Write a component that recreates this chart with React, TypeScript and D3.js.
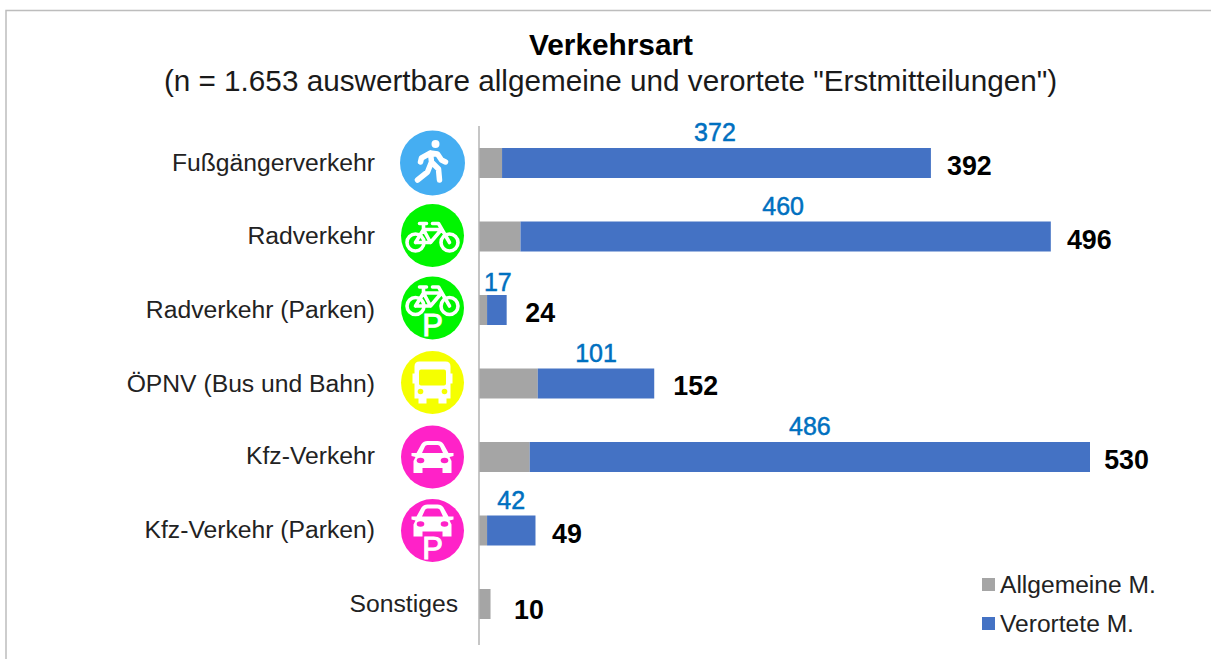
import React from "react";
import * as d3 from "d3";

const categories = ["Fußgängerverkehr", "Radverkehr", "Radverkehr (Parken)", "ÖPNV (Bus und Bahn)", "Kfz-Verkehr", "Kfz-Verkehr (Parken)", "Sonstiges"];
const allgemein = [20, 36, 7, 51, 44, 7, 10];
const verortet = [372, 460, 17, 101, 486, 42, 0];
const totals = [392, 496, 24, 152, 530, 49, 10];
const iconKinds = ["walk", "bike", "bikeP", "bus", "car", "carP", ""];
const iconColors = ["#45aef2", "#00f500", "#00f500", "#f5ff00", "#ff22c8", "#ff22c8", ""];

// hand-placed label nudges of the original slide
const totalNudge = [0, 0, -5, 3, -2, -7, 0];
const totalNudgeY = [0, 0, 0, -1, 0, 0, 3];
const valueNudge = [-1.5, -2.5, 1, 0, 0, 0, 0];
const valueNudgeY = [0, 0, 3, 0, 0, 0, 0];
const iconNudge = [0, -1, -2, -1, 0, 0, 0];
const labelNudgeY = [0, -1, 0, 0, -1, -1, 0];

const FONT = "Liberation Sans, Arial, sans-serif";
const W = 1211, H = 659;
const GREY = "#a5a5a5", BLUE = "#4472c4", LABEL = "#0070c0";

function Bike({ y = 0 }: { y?: number }) {
  return (
    <g transform={`translate(0,${y})`} fill="none" stroke="#fff" strokeWidth={3.6} strokeLinejoin="round" strokeLinecap="round">
      <circle cx={-17} cy={6} r={8.5} />
      <circle cx={17} cy={6} r={8.5} />
      <path d="M-17 6 L-9 -7 L9 -7 M-9 -7 L-2 6 L9 -7 M-2 6 L-17 6 M17 6 L6 -13 L0 -13 M-13 -13 L-6 -13 M-9 -13 L-9 -7" />
    </g>
  );
}

function Car({ y = 0 }: { y?: number }) {
  return (
    <g transform={`translate(0,${y})`}>
      <path fill="#fff" d="M-21 -4 L-16 -4 L-11 -13 Q-9 -16 -5 -16 L5 -16 Q9 -16 11 -13 L16 -4 L21 -4 L21 -1 L17 0 L19 4 L19 16 L10 16 L10 11 L-10 11 L-10 16 L-19 16 L-19 4 L-17 0 L-21 -1 Z" />
      <path fill="currentColor" d="M-10.5 -4 L-7.5 -10.5 Q-7 -12 -5 -12 L5 -12 Q7 -12 7.5 -10.5 L10.5 -4 Z" />
      <ellipse cx={-12} cy={3.5} rx={3.8} ry={2.7} fill="currentColor" />
      <ellipse cx={12} cy={3.5} rx={3.8} ry={2.7} fill="currentColor" />
    </g>
  );
}

function Icon({ kind, color, cx, cy }: { kind: string; color: string; cx: number; cy: number }) {
  const pLetter = (y: number) => (
    <text x={0} y={y} textAnchor="middle" fontFamily={FONT} fontSize={31} fill="#fff" stroke="#fff" strokeWidth={1}>P</text>
  );
  return (
    <g transform={`translate(${cx},${cy})`} style={{ color }}>
      <circle r={kind === "walk" ? 32.5 : 31.5} fill={color} />
      {kind === "walk" && (
        <g>
          <circle cx={3} cy={-19} r={4} fill="#fff" />
          <path fill="none" stroke="#fff" strokeWidth={5.5} strokeLinecap="round" strokeLinejoin="round" d="M-2 -10 L-1 -1 L6 6 L7 17 M-1 -1 L-5 9 L-15 17 M-2 -10 L-11 -5 L-12 -1 M-2 -10 L5 -9 L9 -3 L13 -1" />
        </g>
      )}
      {kind === "bike" && <Bike y={1} />}
      {kind === "bikeP" && (<><Bike y={-8} />{pLetter(28)}</>)}
      {kind === "bus" && (
        <g>
          <path fill="#fff" d="M-20 -9 L-18 -9 L-18 -16 Q-18 -21 -13 -21 L13 -21 Q18 -21 18 -16 L18 -9 L20 -9 L20 1 L18 1 L18 16 L14 16 L14 21 L6 21 L6 16 L-6 16 L-6 21 L-14 21 L-14 16 L-18 16 L-18 1 L-20 1 Z" />
          <rect x={-13.5} y={-13} width={27} height={16} rx={2} fill={color} />
          <circle cx={-12} cy={9} r={2.8} fill={color} />
          <circle cx={12} cy={9} r={2.8} fill={color} />
        </g>
      )}
      {kind === "car" && <Car y={0} />}
      {kind === "carP" && (<><Car y={-10} />{pLetter(28)}</>)}
    </g>
  );
}

export default function App() {
  const x = d3.scaleLinear().domain([0, 530]).range([479, 1090]);
  const y = d3.scalePoint<string>().domain(categories).range([163, 604]);
  const barH = 30;
  const stacked = d3.stack<number>().keys(["a", "v"]).value((i, k) => (k === "a" ? allgemein[i] : verortet[i]))(d3.range(categories.length));
  const colors = [GREY, BLUE];

  return (
    <svg width={W} height={H} viewBox={`0 0 ${W} ${H}`} style={{ position: "fixed", left: 0, top: 0, background: "#fff" }} fontFamily={FONT}>
      <path d={`M6 ${H} L6 10.5 L${W} 10.5`} fill="none" stroke="#bdbdbd" strokeWidth={1.5} />
      <text x={611} y={55} textAnchor="middle" fontSize={29.8} fontWeight={700} fill="#000">Verkehrsart</text>
      <text x={610.5} y={91} textAnchor="middle" fontSize={29.7} fill="#1a1a1a">(n = 1.653 auswertbare allgemeine und verortete "Erstmitteilungen")</text>

      {categories.map((c, i) => (
        <text key={c} x={i === 6 ? 458 : 375} y={y(c)! + 8 + labelNudgeY[i]} textAnchor="end" fontSize={24.7} fill="#222">{c}</text>
      ))}
      {categories.map((c, i) => iconKinds[i] ? (
        <Icon key={c} kind={iconKinds[i]} color={iconColors[i]} cx={432.5} cy={y(c)! + iconNudge[i]} />
      ) : null)}

      {stacked.map((s, si) => (
        <g key={si} fill={colors[si]}>
          {s.map((d, i) => (
            <rect key={i} x={x(d[0])} y={y(categories[i])! - barH / 2} width={x(d[1]) - x(d[0])} height={barH} />
          ))}
        </g>
      ))}
      <line x1={479} x2={479} y1={126} y2={645} stroke="#b3b3b3" strokeWidth={1.5} />

      {categories.map((c, i) => verortet[i] > 0 ? (
        <text key={c} x={(x(allgemein[i]) + x(totals[i])) / 2 + valueNudge[i]} y={y(c)! - 22 + valueNudgeY[i]} textAnchor="middle" fontSize={25} fill={LABEL} stroke={LABEL} strokeWidth={0.5}>{verortet[i]}</text>
      ) : null)}
      {categories.map((c, i) => (
        <text key={c} x={x(totals[i]) + 38.5 + totalNudge[i]} y={y(c)! + 12 + totalNudgeY[i]} textAnchor="middle" fontSize={26.8} fontWeight={700} fill="#000">{totals[i]}</text>
      ))}

      <rect x={982} y={578} width={13} height={13} fill={GREY} />
      <text x={1000} y={593} fontSize={24.6} fill="#222">Allgemeine M.</text>
      <rect x={982} y={617} width={13} height={13} fill={BLUE} />
      <text x={1000} y={632} fontSize={24.6} fill="#222">Verortete M.</text>
    </svg>
  );
}
